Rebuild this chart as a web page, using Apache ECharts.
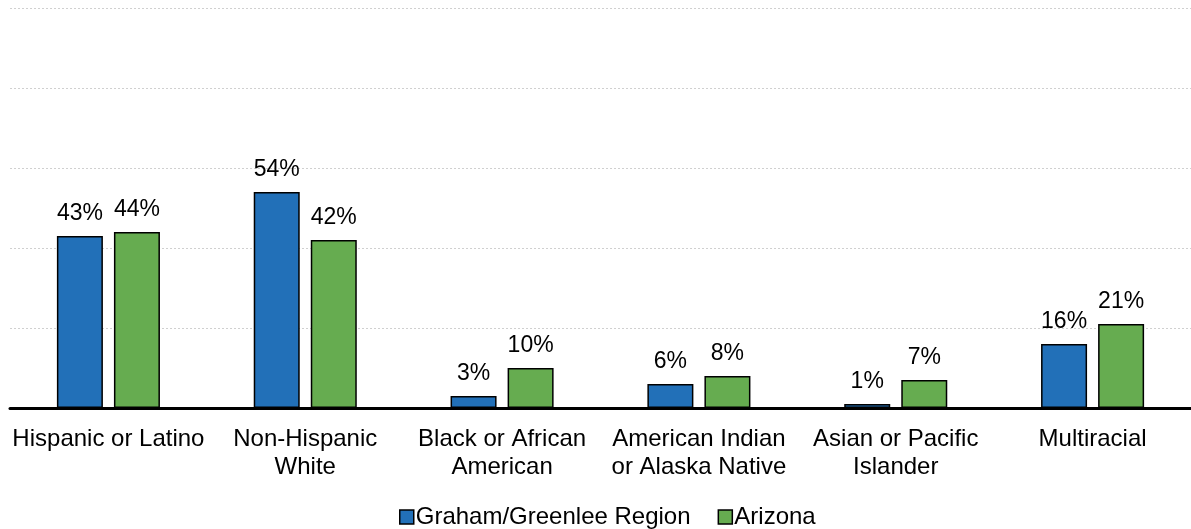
<!DOCTYPE html>
<html>
<head>
<meta charset="utf-8">
<script src="https://cdn.jsdelivr.net/npm/echarts@6/dist/echarts.min.js"></script>
<style>html,body{margin:0;padding:0;background:#fff;}#c{width:1191px;height:529px;}</style>
</head>
<body>
<div id="c"></div>
<script>
const categories = ['Hispanic or Latino', 'Non-Hispanic\nWhite', 'Black or African\nAmerican', 'American Indian\nor Alaska Native', 'Asian or Pacific\nIslander', 'Multiracial'];
const grahamValues = [43, 54, 3, 6, 1, 16];
const arizonaValues = [44, 42, 10, 8, 7, 21];
const seriesNames = ['Graham/Greenlee Region', 'Arizona'];

const chart = echarts.init(document.getElementById('c'), null, {renderer: 'canvas'});
const font = 'Liberation Sans, Arial, sans-serif';
const labelCfg = {show: true, position: 'top', distance: 11, formatter: '{c}%', color: '#000', fontSize: 23, fontFamily: font};
chart.setOption({
  animation: false,
  grid: {left: 10, width: 1188, top: 8, bottom: 121, containLabel: false},
  legend: {
    top: 500, left: 394, padding: [5, 5, 5, 5], itemWidth: 14, itemHeight: 14, itemGap: 27,
    textStyle: {fontSize: 24, fontFamily: font, color: '#000', padding: [0,0,0,-3]},
    data: seriesNames.map(n => ({name: n, icon: 'rect', itemStyle: {borderColor: '#000', borderWidth: 1.5}}))
  },
  xAxis: {
    type: 'category', data: categories,
    axisLine: {show: true, lineStyle: {color: '#000', width: 3}},
    axisTick: {show: false},
    axisLabel: {color: '#000', fontSize: 24, fontFamily: font, margin: 17, lineHeight: 28, interval: 0}
  },
  yAxis: {
    type: 'value', min: 0, max: 100, interval: 20,
    axisLabel: {show: false}, axisLine: {show: false}, axisTick: {show: false},
    splitLine: {show: true, lineStyle: {color: '#d0d0d0', width: 1, type: [2, 2]}}
  },
  series: [
    {name: seriesNames[0], type: 'bar', data: grahamValues, barWidth: 46, barGap: '24%',
     itemStyle: {color: '#2270B8', borderColor: '#000', borderWidth: 1.5}, label: labelCfg},
    {name: seriesNames[1], type: 'bar', data: arizonaValues, barWidth: 46,
     itemStyle: {color: '#66AC50', borderColor: '#000', borderWidth: 1.5}, label: labelCfg}
  ]
});
</script>
</body>
</html>
